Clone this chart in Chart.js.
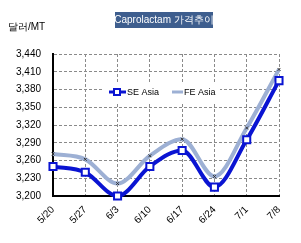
<!DOCTYPE html>
<html>
<head>
<meta charset="utf-8">
<script src="https://cdn.jsdelivr.net/npm/chart.js@4/dist/chart.umd.min.js"></script>
<style>
  html, body { margin: 0; padding: 0; background: #fff; }
  #wrap { width: 301px; height: 243px; position: relative; }
</style>
</head>
<body>
<div id="wrap"><canvas id="myChart"></canvas></div>
<script>
const categories = ['5/20', '5/27', '6/3', '6/10', '6/17', '6/24', '7/1', '7/8'];
const seAsia = [3250, 3240, 3200, 3250, 3277, 3215, 3295, 3395];
const feAsia = [3271, 3262, 3221, 3268, 3296, 3233, 3315, 3414];
const yTicks = [3200, 3230, 3260, 3290, 3320, 3350, 3380, 3410, 3440];

const FONT = '"Liberation Sans", Arial, sans-serif';
const SE_COLOR = '#0a14d2';
const FE_COLOR = '#9db0d4';

// 제목, 단위, 범례를 직접 그림
const decorPlugin = {
  id: 'decor',
  afterDraw(chart) {
    const c = chart.ctx;
    c.save();
    // 제목 박스
    c.fillStyle = '#3e5e8e';
    c.fillRect(115, 12, 98, 16);
    c.fillStyle = '#ffffff';
    c.font = '10px ' + FONT;
    c.textBaseline = 'middle';
    c.textAlign = 'center';
    c.fillText('Caprolactam 가격추이', 164, 20.5);
    // 단위
    c.fillStyle = '#000';
    c.textAlign = 'left';
    c.fillText('달러/MT', 8, 27);

    // 범례
    c.fillStyle = '#fff';
    c.fillRect(103, 82, 117, 21);
    c.font = '9px ' + FONT;
    c.lineWidth = 3;
    c.strokeStyle = SE_COLOR;
    c.beginPath(); c.moveTo(109, 92); c.lineTo(126, 92); c.stroke();
    c.fillStyle = '#fff';
    c.lineWidth = 2;
    c.fillRect(114, 89, 6, 6);
    c.strokeRect(114, 89, 6, 6);
    c.fillStyle = '#000';
    c.fillText('SE Asia', 127, 92.5);
    c.lineWidth = 3;
    c.strokeStyle = FE_COLOR;
    c.beginPath(); c.moveTo(172, 92); c.lineTo(183, 92); c.stroke();
    c.fillStyle = '#000';
    c.fillText('FE Asia', 184, 92.5);
    c.restore();
  }
};

const ctx = document.getElementById('myChart').getContext('2d');
new Chart(ctx, {
  type: 'line',
  data: {
    labels: categories,
    datasets: [
      {
        label: 'FE Asia',
        data: feAsia,
        borderColor: FE_COLOR,
        borderWidth: 4,
        cubicInterpolationMode: 'monotone',
        clip: false,
        pointRadius: 2,
        pointStyle: 'crossRot',
        pointBorderColor: '#333',
        pointBorderWidth: 1,
        order: 2
      },
      {
        label: 'SE Asia',
        data: seAsia,
        borderColor: SE_COLOR,
        borderWidth: 4,
        cubicInterpolationMode: 'monotone',
        clip: false,
        pointStyle: 'rect',
        pointRadius: 5,
        pointBackgroundColor: '#fff',
        pointBorderColor: SE_COLOR,
        pointBorderWidth: 2,
        order: 1
      }
    ]
  },
  options: {
    responsive: true,
    maintainAspectRatio: false,
    animation: false,
    layout: { padding: { top: 54, right: 22, left: 0, bottom: 0 } },
    plugins: {
      legend: { display: false },
      tooltip: { enabled: false }
    },
    scales: {
      x: {
        offset: false,
        afterFit(scale) { scale.height = 47; },
        grid: {
          color: '#8a8a8a',
          drawTicks: false
        },
        border: { color: '#000', width: 2, dash: [3, 2] },
        ticks: {
          minRotation: 45,
          maxRotation: 45,
          padding: 8,
          color: '#000',
          font: { family: FONT, size: 10 }
        }
      },
      y: {
        min: 3200,
        max: 3440,
        afterFit(scale) { scale.width = 53; },
        afterBuildTicks(scale) { scale.ticks = yTicks.map(v => ({ value: v })); },
        grid: {
          color: '#8a8a8a',
          drawTicks: false
        },
        border: { color: '#000', width: 2, dash: [3, 2] },
        ticks: {
          padding: 12,
          color: '#000',
          font: { family: FONT, size: 10 },
          callback: v => v.toLocaleString('en-US')
        }
      }
    }
  },
  plugins: [decorPlugin]
});
</script>
</body>
</html>
